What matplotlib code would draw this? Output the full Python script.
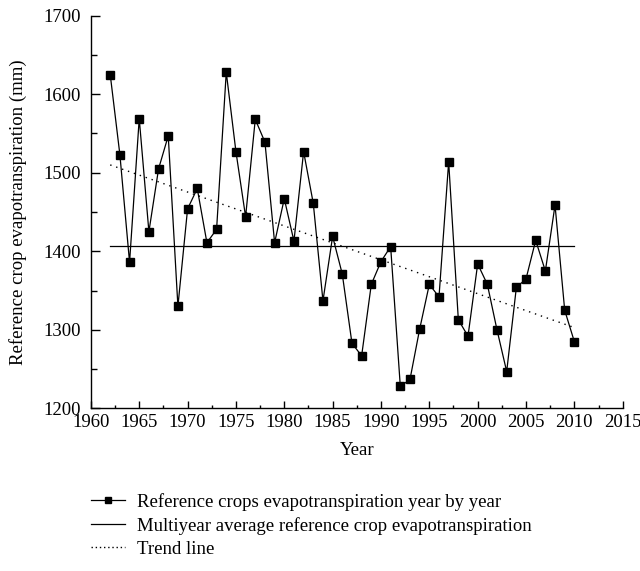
import numpy as np
import matplotlib
matplotlib.use('Agg')
import matplotlib.pyplot as plt
from matplotlib.ticker import MultipleLocator
from matplotlib.lines import Line2D

# Reference crop evapotranspiration (mm)
years = list(range(1962, 2011))
et0 = [1625, 1523, 1386, 1569, 1425, 1505, 1547, 1330, 1454, 1480,
       1411, 1428, 1628, 1527, 1444, 1568, 1539, 1411, 1467, 1413,
       1527, 1461, 1337, 1419, 1371, 1283, 1267, 1358, 1387, 1406,
       1228, 1237, 1301, 1358, 1342, 1514, 1313, 1292, 1384, 1358,
       1300, 1247, 1354, 1365, 1414, 1375, 1459, 1325, 1285]
avg_years = [1962, 2010]
avg_vals = [1407, 1407]
trend_years = [1962, 2010]
trend_vals = [1510, 1303]

labels = ['Reference crops evapotranspiration year by year',
          'Multiyear average reference crop evapotranspiration',
          'Trend line']

plt.rcParams['font.family'] = ['Liberation Serif', 'DejaVu Serif']
fs = 13.5

fig = plt.figure(figsize=(6.4, 5.71), dpi=100)
ax = fig.add_axes([0.142, 0.2846, 0.831, 0.688])

ax.plot(years, et0, color='black', lw=0.9, marker='s', ms=5.8)
ax.plot(avg_years, avg_vals, color='black', lw=0.9)
ax.plot(trend_years, trend_vals, color='black', lw=1.0, ls=(0, (1, 3.5)))

ax.set_xlim(1960, 2015)
ax.set_ylim(1200, 1700)
ax.xaxis.set_major_locator(MultipleLocator(5))
ax.xaxis.set_minor_locator(MultipleLocator(2.5))
ax.yaxis.set_major_locator(MultipleLocator(100))
ax.yaxis.set_minor_locator(MultipleLocator(50))
ax.tick_params(axis='x', which='major', direction='in', length=5, width=1, labelsize=fs, pad=4)
ax.tick_params(axis='x', which='minor', direction='in', length=2.5, width=1)
ax.tick_params(axis='y', which='major', direction='in', length=6.5, width=1, labelsize=fs, pad=7)
ax.tick_params(axis='y', which='minor', direction='in', length=4, width=1)
for s in ['top', 'right']:
    ax.spines[s].set_visible(False)
for s in ['left', 'bottom']:
    ax.spines[s].set_linewidth(1)

ax.set_xlabel('Year', fontsize=fs, labelpad=8)
ax.set_ylabel('Reference crop evapotranspiration (mm)', fontsize=fs, labelpad=12)

handles = [Line2D([], [], color='black', lw=0.9, marker='s', ms=4),
           Line2D([], [], color='black', lw=0.9),
           Line2D([], [], color='black', lw=1.0, ls=(0, (1, 2)))]
fig.legend(handles, labels, loc='upper left', bbox_to_anchor=(0.142, 0.137),
           frameon=False, fontsize=fs, handlelength=1.8, handletextpad=0.65,
           labelspacing=0.33, borderaxespad=0, borderpad=0)

fig.savefig('out.png', dpi=100)
